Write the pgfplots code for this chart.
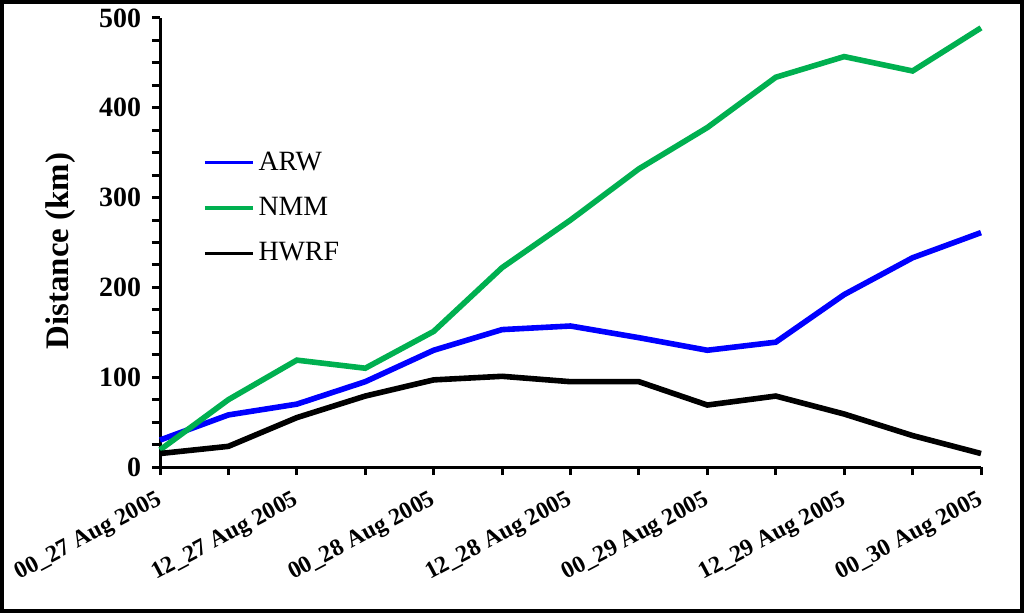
\documentclass[border=0pt]{standalone}
\usepackage{pgfplots}
\pgfplotsset{compat=1.18}
\usepackage{fontspec}
\setmainfont{Liberation Serif}
\definecolor{arw}{RGB}{0,0,255}
\definecolor{nmm}{RGB}{0,176,80}
\begin{document}
\begin{tikzpicture}
\useasboundingbox (0,0) rectangle (512bp,306.5bp);
\begin{axis}[
  scale only axis,
  width=410.5bp, height=224.5bp,
  at={(80bp,73bp)}, anchor=south west,
  xmin=0, xmax=12, ymin=0, ymax=500,
  axis x line=bottom, axis y line=left,
  axis line style={-, line width=1.5bp},
  xtick pos=bottom, ytick pos=left,
  xtick align=outside, ytick align=outside,
  major tick style={draw=black, line width=1.5bp},
  minor tick style={draw=black, line width=1.5bp},
  major tick length=4bp, minor tick length=4bp,
  xtick={0,...,12},
  xticklabels={00\_27 Aug 2005,,12\_27 Aug 2005,,00\_28 Aug 2005,,12\_28 Aug 2005,,00\_29 Aug 2005,,12\_29 Aug 2005,,00\_30 Aug 2005},
  ytick={0,100,...,500},
  minor y tick num=3,
  /pgf/number format/assume math mode=true,
  xticklabel style={font=\fontsize{12}{14}\selectfont\bfseries, xshift=2bp, yshift=-11bp, rotate=28, anchor=east, inner sep=2bp},
  yticklabel style={font=\fontsize{14}{16}\selectfont\bfseries, xshift=-2bp},
  ylabel={Distance (km)},
  every axis y label/.style={at={(axis description cs:-0.1206,0.481)}, rotate=90, anchor=center,
     font=\fontsize{16.5}{20}\selectfont\bfseries},
  legend style={draw=none, fill=none, at={(axis description cs:0.045,0.72)}, anchor=north west,
     font=\fontsize{14}{16}\selectfont, row sep=8bp},
  legend cell align=left,
  legend image code/.code={\draw[#1, line width=1.6bp] (0bp,0bp) -- (24bp,0bp);},
  clip=false,
]
\addplot[arw, line width=2.8bp] coordinates {
(0,30) (1,58) (2,70) (3,95) (4,130) (5,153) (6,157) (7,144) (8,130) (9,139) (10,192) (11,233) (12,261)};
\addlegendentry{ARW}
\addplot[nmm, line width=2.8bp] coordinates {
(0,19) (1,75) (2,119) (3,110) (4,151) (5,222) (6,275) (7,332) (8,378) (9,434) (10,457) (11,441) (12,489)};
\addlegendentry{NMM}
\addplot[black, line width=2.8bp] coordinates {
(0,15) (1,23) (2,55) (3,79) (4,97) (5,101) (6,95) (7,95) (8,69) (9,79) (10,59) (11,35) (12,15)};
\addlegendentry{HWRF}
\end{axis}
\draw[line width=2bp] (1bp,1bp) rectangle (511bp,305.5bp);
\end{tikzpicture}
\end{document}
